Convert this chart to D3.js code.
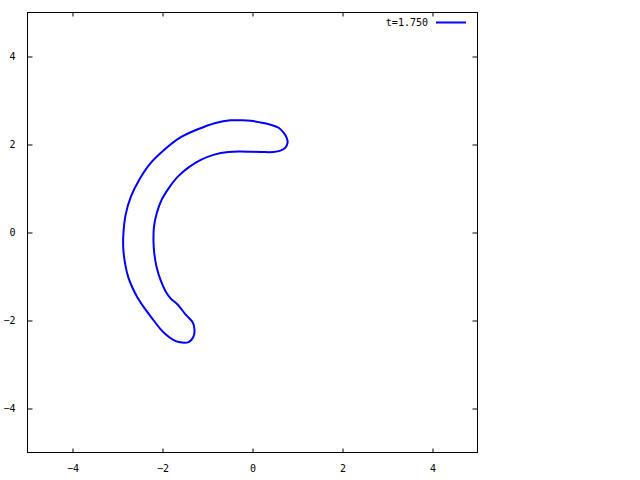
<!DOCTYPE html>
<html>
<head>
<meta charset="utf-8">
<script src="https://cdn.jsdelivr.net/npm/d3@7"></script>
<style>
  body { margin: 0; background: #fff; }
  text { font-family: "DejaVu Sans Mono", monospace; font-size: 10px; fill: #000; }
</style>
</head>
<body>
<div id="chart"></div>
<script>
// closed curve of the level set at this time step
var label = "t=1.750";
var xTicks = [-4, -2, 0, 2, 4];
var yTicks = [-4, -2, 0, 2, 4];
var curve = [
  [0.78, 2.04], [0.76, 2.15], [0.69, 2.27], [0.58, 2.38], [0.40, 2.45],
  [0.18, 2.50], [-0.04, 2.54], [-0.27, 2.55], [-0.49, 2.55], [-0.82, 2.49],
  [-1.23, 2.34], [-1.62, 2.15], [-1.96, 1.88], [-2.27, 1.57], [-2.51, 1.21],
  [-2.70, 0.82], [-2.82, 0.40], [-2.87, -0.05], [-2.87, -0.39], [-2.82, -0.77],
  [-2.76, -1.02], [-2.67, -1.25], [-2.56, -1.47], [-2.40, -1.72], [-2.24, -1.94],
  [-2.04, -2.20], [-1.93, -2.31], [-1.78, -2.43], [-1.64, -2.49], [-1.42, -2.49],
  [-1.31, -2.36], [-1.29, -2.20], [-1.33, -2.04], [-1.49, -1.86], [-1.67, -1.63],
  [-1.81, -1.51], [-1.93, -1.34], [-2.04, -1.09], [-2.13, -0.79], [-2.18, -0.50],
  [-2.20, -0.21], [-2.19, 0.12], [-2.13, 0.43], [-2.02, 0.74], [-1.86, 1.01],
  [-1.66, 1.27], [-1.42, 1.48], [-1.15, 1.65], [-0.85, 1.77], [-0.54, 1.83],
  [-0.27, 1.84], [0.18, 1.83], [0.47, 1.83], [0.62, 1.86], [0.73, 1.93]
];

var width = 640, height = 480;

var svg = d3.select('#chart').append('svg')
    .attr('width', width)
    .attr('height', height);

var x = d3.scaleLinear().domain([-5, 5]).range([27.5, 477.5]);
var y = d3.scaleLinear().domain([-5, 5]).range([452.5, 12.5]);

// the curve
var line = d3.line()
    .x(function(d) { return x(d[0]); })
    .y(function(d) { return y(d[1]); })
    .curve(d3.curveCatmullRomClosed.alpha(0.5));

svg.append('path')
    .datum(curve)
    .attr('d', line)
    .attr('fill', 'none')
    .attr('stroke', '#0000ff')
    .attr('stroke-width', 2);

// axes, ticks point inward, mirrored on top and right
svg.append('g').attr('transform', 'translate(0,452.5)')
    .call(d3.axisBottom(x).tickValues(xTicks).tickSizeInner(-4).tickSizeOuter(0).tickPadding(12))
    .call(function(g) { g.select('.domain').remove(); });
svg.append('g').attr('transform', 'translate(0,12.5)')
    .call(d3.axisTop(x).tickValues(xTicks).tickSizeInner(-4).tickSizeOuter(0).tickFormat(''))
    .call(function(g) { g.select('.domain').remove(); });
svg.append('g').attr('transform', 'translate(27.5,0)')
    .call(d3.axisLeft(y).tickValues(yTicks).tickSizeInner(-5).tickSizeOuter(0).tickPadding(12))
    .call(function(g) { g.select('.domain').remove(); });
svg.append('g').attr('transform', 'translate(477.5,0)')
    .call(d3.axisRight(y).tickValues(yTicks).tickSizeInner(-5).tickSizeOuter(0).tickFormat(''))
    .call(function(g) { g.select('.domain').remove(); });

svg.selectAll('.tick text')
    .style('font-family', '"DejaVu Sans Mono", monospace')
    .style('font-size', '10px')
    .attr('fill', '#000');
svg.selectAll('.tick line').attr('stroke', '#000');

// border
svg.append('rect')
    .attr('x', 27.5).attr('y', 12.5)
    .attr('width', 450).attr('height', 440)
    .attr('fill', 'none')
    .attr('stroke', '#000')
    .attr('stroke-width', 1);

// key
svg.append('text')
    .attr('x', 428).attr('y', 26)
    .attr('text-anchor', 'end')
    .text(label);
svg.append('line')
    .attr('x1', 436).attr('x2', 466)
    .attr('y1', 22.5).attr('y2', 22.5)
    .attr('stroke', '#0000ff')
    .attr('stroke-width', 2);
</script>
</body>
</html>
